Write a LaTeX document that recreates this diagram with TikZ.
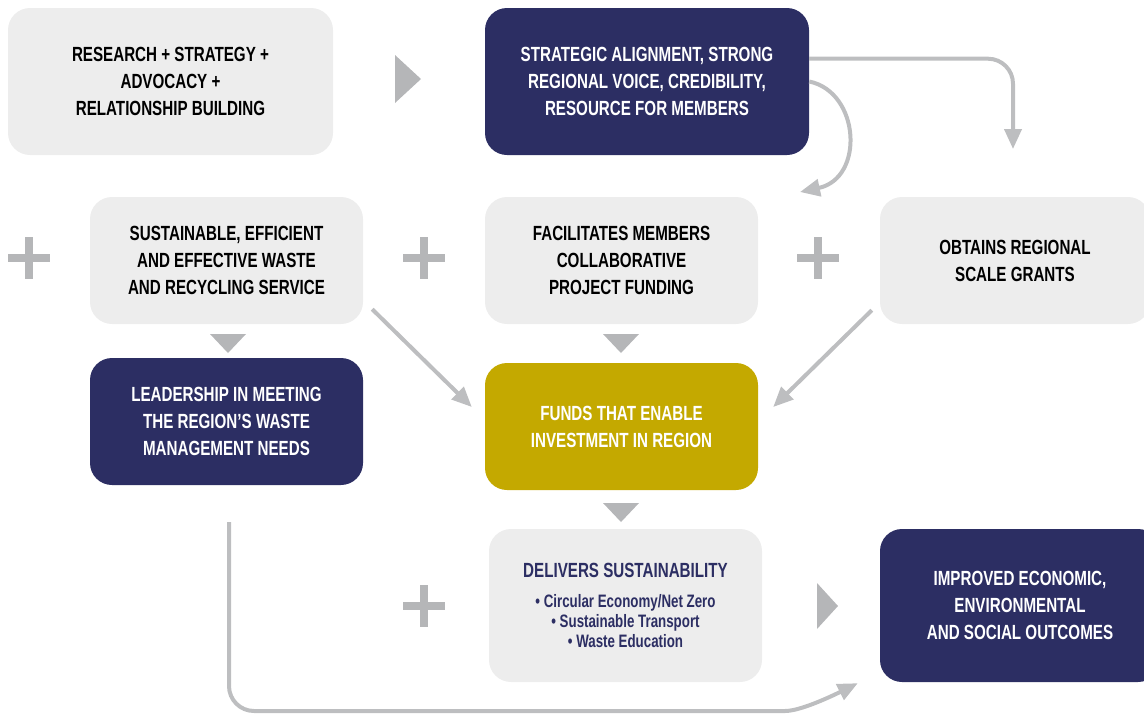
\documentclass[tikz,border=0pt]{standalone}
\usepackage{fontspec}
\setmainfont[FakeStretch=0.74]{Liberation Sans}
\usepackage{tikz}
\usetikzlibrary{calc}
\usetikzlibrary{arrows.meta}

\definecolor{boxgrey}{HTML}{EDEDED}
\definecolor{navy}{HTML}{2C2E63}
\definecolor{gold}{HTML}{C4A900}
\definecolor{linegrey}{HTML}{BDBEC0}
\definecolor{markgrey}{HTML}{B5B6B8}

\tikzset{
  box/.style={rounded corners=22pt, inner sep=0pt, align=center, font=\fontsize{20.5}{27}\selectfont\bfseries},
  greybox/.style={box, fill=boxgrey, text=black},
  navybox/.style={box, fill=navy, text=white},
  goldbox/.style={box, fill=gold, text=white},
  flow/.style={draw=linegrey, line width=4pt, -{Triangle[length=20pt,width=17pt]}},
}

\begin{document}
\begin{tikzpicture}[x=1pt,y=-1pt]
\useasboundingbox (0,0) rectangle (1144,713);

\node[greybox, minimum width=325pt, minimum height=147pt] (research) at (170.5,81.5) {RESEARCH + STRATEGY +\\ADVOCACY +\\RELATIONSHIP BUILDING};
\node[navybox, minimum width=324pt, minimum height=147pt] (strategic) at (647,81.5) {STRATEGIC ALIGNMENT, STRONG\\REGIONAL VOICE, CREDIBILITY,\\RESOURCE FOR MEMBERS};

\node[greybox, minimum width=273pt, minimum height=127pt] (sustain) at (226.5,260.5) {SUSTAINABLE, EFFICIENT\\AND EFFECTIVE WASTE\\AND RECYCLING SERVICE};
\node[greybox, minimum width=273pt, minimum height=127pt] (facil) at (621.5,260.5) {FACILITATES MEMBERS\\COLLABORATIVE\\PROJECT FUNDING};
\node[greybox, minimum width=270pt, minimum height=127pt] (grants) at (1015,260.5) {OBTAINS REGIONAL\\SCALE GRANTS};

\node[navybox, minimum width=273pt, minimum height=127pt] (leader) at (226.5,421.5) {LEADERSHIP IN MEETING\\THE REGION'S WASTE\\MANAGEMENT NEEDS};
\node[goldbox, minimum width=273pt, minimum height=127pt] (funds) at (621.5,426.5) {FUNDS THAT ENABLE\\INVESTMENT IN REGION};

\node[greybox, text=navy, minimum width=273pt, minimum height=153pt, font=\fontsize{18}{20}\selectfont\bfseries] (deliver) at (625.5,605.5) {{\fontsize{20.5}{27}\selectfont DELIVERS SUSTAINABILITY}\\[10pt]• Circular Economy/Net Zero\\• Sustainable Transport\\• Waste Education};
\node[navybox, minimum width=280pt, minimum height=153pt] (outcome) at (1020,605.5) {IMPROVED ECONOMIC,\\ENVIRONMENTAL\\AND SOCIAL OUTCOMES};

\fill[markgrey] (395,55) -- (421,79) -- (395,103) -- cycle;
\fill[markgrey] (817,583) -- (838,606) -- (817,629) -- cycle;
\fill[markgrey] (210,334) -- (246,334) -- (228,353) -- cycle;
\fill[markgrey] (603,334) -- (639,334) -- (621,353) -- cycle;
\fill[markgrey] (603,503) -- (639,503) -- (621,522) -- cycle;

\foreach \x/\y in {29/258, 424/258, 818/258, 424/606}
  \draw[markgrey, line width=8pt] (\x-21,\y) -- (\x+21,\y) (\x,\y-21) -- (\x,\y+21);

\coordinate (grantsin) at (1013,149);
\coordinate (facilin) at (800,192);

\draw[flow, rounded corners=25pt] (strategic.8) -| (grantsin);
\draw[flow] (strategic.east) .. controls (860,92) and (865,178) .. (facilin);
\draw[flow] ($(sustain.south east)+(9,-15)$) -- ($(funds.west)+(-13,-19.5)$);
\draw[flow] ($(grants.south west)+(-8,-14)$) -- ($(funds.east)+(15,-19.5)$);
\draw[flow, rounded corners=25pt] ($(leader.south)+(2.5,37)$) |- (760,711) [sharp corners] .. controls (800,711) and (830,697) .. ($(outcome.south west)+(-22,1)$);

\end{tikzpicture}
\end{document}
